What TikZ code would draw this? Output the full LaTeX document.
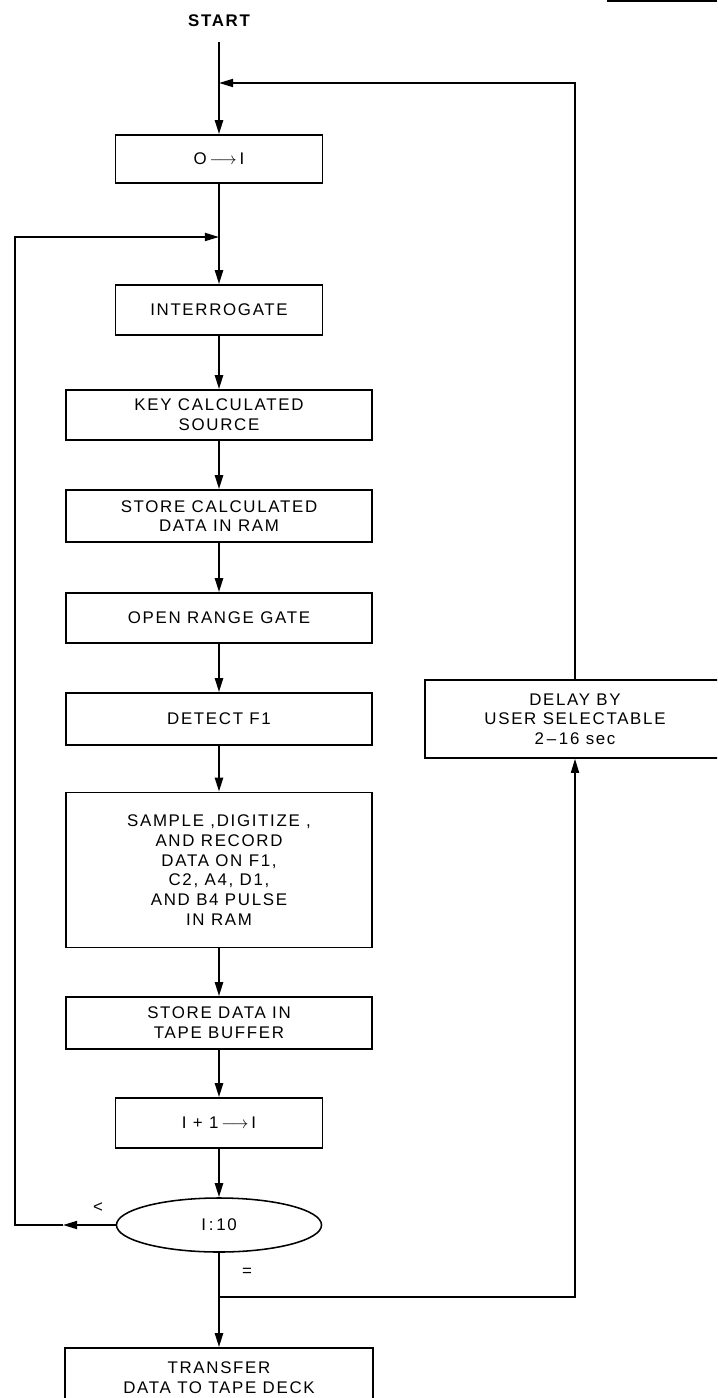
\documentclass[tikz,border=0pt]{standalone}
\usepackage{fontspec}
\setmainfont{Liberation Sans}[LetterSpace=10]
\usetikzlibrary{arrows.meta, positioning, shapes.geometric}
\tikzset{
    pbox/.style={rectangle, draw, line width=1.1pt, minimum width=7.65cm, minimum height=1.25cm, align=center, font=\fontsize{12}{14}\selectfont},
    sbox/.style={pbox, minimum width=5.175cm},
    dnode/.style={ellipse, draw, line width=1.1pt, minimum width=5.125cm, minimum height=1.35cm, font=\fontsize{12}{14}\selectfont},
    flow/.style={draw, line width=1.6pt, -{Triangle[length=3.5mm, width=2mm]}},
    back/.style={draw, line width=1.2pt, -{Triangle[length=3.5mm, width=2mm]}},
    lbl/.style={font=\fontsize{12}{14}\selectfont},
}
\begin{document}
\begin{tikzpicture}[x=0.025cm, y=-0.025cm]
    \clip (0,0) rectangle (717,1398);
    \draw[line width=1pt] (607,1) -- (717,1);

    % Main column
    \node[lbl, font=\fontsize{12}{14}\selectfont\bfseries, outer sep=2.5mm] (start) at (219,21) {START};
    \node[sbox, minimum height=1.2cm] (init) at (219,159) {O\,$\longrightarrow$\,I};
    \node[sbox] (interr) at (219,310) {INTERROGATE};
    \node[pbox] (key) at (219,415) {KEY CALCULATED\\SOURCE};
    \node[pbox, minimum height=1.3cm] (storecalc) at (219,516) {STORE CALCULATED\\DATA IN RAM};
    \node[pbox] (gate) at (219,618) {OPEN RANGE GATE};
    \node[pbox, minimum height=1.3cm] (detect) at (219,719) {DETECT F1};
    \node[pbox, minimum height=3.875cm] (sample) at (219,870)
        {SAMPLE ,DIGITIZE ,\\AND RECORD\\DATA ON F1,\\C2, A4, D1,\\AND B4 PULSE\\IN RAM};
    \node[pbox, minimum height=1.3cm] (storetape) at (219,1023) {STORE DATA IN\\TAPE BUFFER};
    \node[sbox] (incr) at (219,1123) {I + 1\,$\longrightarrow$\,I};
    \node[dnode] (test) at (219,1225) {I\,:\,10};
    \node[pbox, minimum width=7.7cm, minimum height=1.5cm] (transfer) at (219,1378) {TRANSFER\\DATA TO TAPE DECK};

    % Delay branch
    \node[pbox, minimum width=7.5cm, minimum height=1.95cm] (delay) at (575,719) {DELAY BY\\USER SELECTABLE\\2\,--\,16 sec};

    % Branch labels
    \node[lbl] (lt) at (98,1208) {<};
    \node[lbl] (eq) at (247,1272) {=};

    % Junctions
    \coordinate (j0) at (219,83);
    \coordinate (j1) at (219,237);
    \coordinate (j2) at (219,1297);
    \coordinate (la) at (63,1225);
    \coordinate (lc) at (15,1225);

    % Forward flow
    \draw[flow] (start) -- (init);
    \draw[flow] (init) -- (interr);
    \draw[flow] (interr) -- (key);
    \draw[flow] (key) -- (storecalc);
    \draw[flow] (storecalc) -- (gate);
    \draw[flow] (gate) -- (detect);
    \draw[flow] (detect) -- (sample);
    \draw[flow] (sample) -- (storetape);
    \draw[flow] (storetape) -- (incr);
    \draw[flow] (incr) -- (test);
    \draw[flow] (test) -- (transfer);

    % Loop back on <
    \draw[back] (test.west) -- (la);
    \draw[back] (la) -- (lc) |- (j1);

    % Loop back on = via delay
    \draw[back] (j2) -| (delay.south);
    \draw[back] (delay.north) |- (j0);
\end{tikzpicture}
\end{document}
